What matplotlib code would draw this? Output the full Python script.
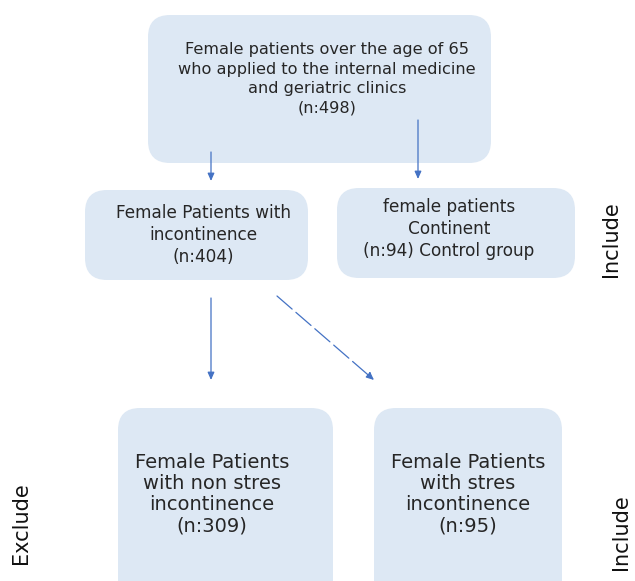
import matplotlib.pyplot as plt
from matplotlib.patches import FancyBboxPatch

plt.rcParams['font.family'] = ['DejaVu Sans']

# flowchart content
box_texts = [
    'Female patients over the age of 65\nwho applied to the internal medicine\nand geriatric clinics\n(n:498)',
    'Female Patients with\nincontinence\n(n:404)',
    'female patients\nContinent\n(n:94) Control group',
    'Female Patients\nwith non stres\nincontinence\n(n:309)',
    'Female Patients\nwith stres\nincontinence\n(n:95)',
]
side_labels = ['Include', 'Exclude', 'Include']

# layout in pixels (x, y top, width, height)
boxes = [(148, 15, 343, 148), (85, 190, 223, 90), (337, 188, 238, 90),
         (118, 408, 215, 200), (374, 408, 188, 200)]
text_pos = [(327, 79, 11.6, 1.37), (203, 235, 12.2, 1.3), (449, 229, 12.2, 1.3),
            (212, 494, 14.0, 1.15), (468, 494, 14.0, 1.15)]
fill = '#DDE8F4'
line_col = '#4472C4'

fig = plt.figure(figsize=(6.35, 5.81), dpi=100)
ax = fig.add_axes([0, 0, 1, 1])
ax.set_xlim(0, 635)
ax.set_ylim(581, 0)
ax.axis('off')

for (x, y, w, h), txt, (tx, ty, fs, ls) in zip(boxes, box_texts, text_pos):
    ax.add_patch(FancyBboxPatch((x, y), w, h,
                                boxstyle='round,pad=0,rounding_size=22',
                                fc=fill, ec='none'))
    ax.text(tx, ty, txt, ha='center', va='center', fontsize=fs,
            color='#262626', linespacing=ls)

arrows = [((211, 152), (211, 181), '-'), ((418, 120), (418, 179), '-'),
          ((211, 298), (211, 380), '-'), ((277, 296), (374, 380), (0, (16, 4)))]
for start, end, ls in arrows:
    ax.annotate('', xy=end, xytext=start,
                arrowprops=dict(arrowstyle='-|>,head_length=0.45,head_width=0.2',
                                color=line_col, lw=0.9, linestyle=ls,
                                shrinkA=0, shrinkB=0))

ax.text(611, 239, side_labels[0], rotation=90, ha='center', va='center',
        fontsize=15, color='#111111')
ax.text(21, 523, side_labels[1], rotation=90, ha='center', va='center',
        fontsize=15, color='#111111')
ax.text(621, 532, side_labels[2], rotation=90, ha='center', va='center',
        fontsize=15, color='#111111')

fig.savefig('out.png', dpi=100)
